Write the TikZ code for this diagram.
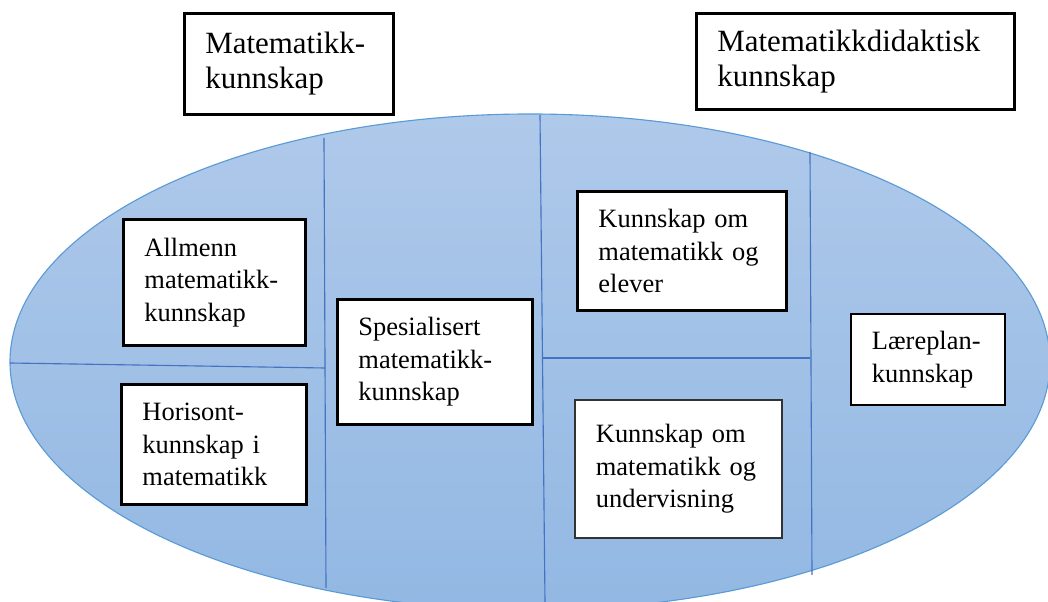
\documentclass[tikz,border=0pt]{standalone}
\usepackage{fontspec}
\setmainfont{Liberation Serif}
\usepackage{xcolor}
\definecolor{ovaltop}{RGB}{175,201,234}
\definecolor{ovalbottom}{RGB}{146,184,227}
\definecolor{ovaledge}{RGB}{91,155,213}
\definecolor{divline}{RGB}{68,114,196}
\begin{document}
\begin{tikzpicture}[x=0.025cm, y=-0.025cm,
    box/.style={draw=black, line width=2.1pt, fill=white, anchor=north west,
                align=left, inner xsep=0.525cm, inner ysep=0pt,
                font=\fontsize{18.8}{23.2}\selectfont},
    thinbox/.style={box, line width=1.3pt},
    headbox/.style={box, line width=1.9pt, font=\fontsize{22}{24.6}\selectfont},
    divider/.style={draw=divline, line width=0.8pt}
  ]
    \useasboundingbox (0,0) rectangle (1048,602);
    \clip (0,0) rectangle (1048,602);

    \shade[top color=ovaltop, bottom color=ovalbottom, draw=ovaledge, line width=0.8pt]
      (530,362) ellipse [x radius=520, y radius=248];

    \draw[divider] (324,138) -- (326,588);
    \draw[divider] (10,363) -- (325,368);
    \draw[divider] (540,115) -- (545,602);
    \draw[divider] (543,358) -- (810,358);
    \draw[divider] (810,152) -- (812,575);

    \node[headbox, text width=167*0.025cm, minimum height=101*0.025cm] (mk) at (183,12)
      {Matematikk-\\kunnskap};
    \node[headbox, text width=276*0.025cm, minimum height=96*0.025cm] (mdk) at (695,12)
      {Matematikkdidaktisk\\kunnskap};

    \node[box, text width=140*0.025cm, minimum height=126*0.025cm] (allmenn) at (122,218)
      {Allmenn\\matematikk-\\kunnskap};
    \node[box, text width=143*0.025cm, minimum height=120*0.025cm] (horisont) at (120,383)
      {Horisont-\\kunnskap i\\matematikk};
    \node[box, text width=153*0.025cm, minimum height=125*0.025cm] (spes) at (336,298)
      {Spesialisert\\matematikk-\\kunnskap};
    \node[box, text width=167*0.025cm, minimum height=119*0.025cm] (elever) at (576,190)
      {Kunnskap om\\matematikk og\\elever};
    \node[thinbox, draw=black!80, text width=165*0.025cm, minimum height=138*0.025cm] (underv) at (574,399)
      {Kunnskap om\\matematikk og\\undervisning};
    \node[thinbox, text width=112*0.025cm, minimum height=91*0.025cm] (laereplan) at (850,313)
      {Læreplan-\\kunnskap};
  \end{tikzpicture}
\end{document}
